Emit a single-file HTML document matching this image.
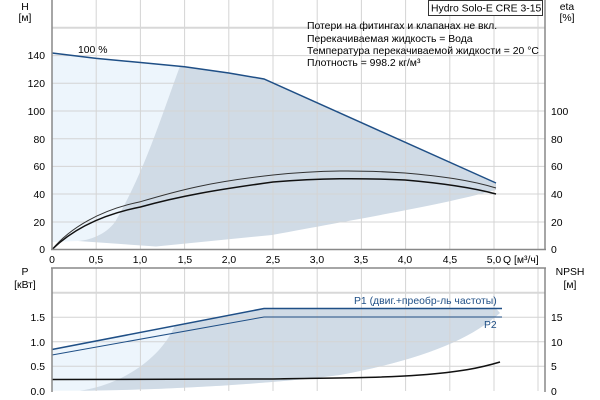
<!DOCTYPE html>
<html><head><meta charset="utf-8"><style>
html,body{margin:0;padding:0;background:#fff;}
svg{display:block;font-family:"Liberation Sans",sans-serif;font-size:10.4px;}
</style></head><body>
<svg width="600" height="400" viewBox="0 0 600 400" xmlns="http://www.w3.org/2000/svg">
<path d="M52,53 L79,56.5 L96,58.6 L140,62.5 L180,66 C160,120 145,170 115,222 C105,235 90,240 78,241 L52,242 Z" fill="#edf5fc"/>
<path d="M180,66 L184.6,66.7 L228,73 L264,79 L496,183 L496,190 C440,205 380,215 272,235 L156,246.5 L78,241 C90,240 105,235 115,222 C145,170 160,120 180,66 Z" fill="#d0dbe6"/>
<g stroke="#d4d4d4" stroke-width="1">
<line x1="96.2" y1="0" x2="96.2" y2="249"/><line x1="140.4" y1="0" x2="140.4" y2="249"/><line x1="184.6" y1="0" x2="184.6" y2="249"/><line x1="228.8" y1="0" x2="228.8" y2="249"/><line x1="273" y1="0" x2="273" y2="249"/><line x1="317.2" y1="0" x2="317.2" y2="249"/><line x1="361.4" y1="0" x2="361.4" y2="249"/><line x1="405.6" y1="0" x2="405.6" y2="249"/><line x1="449.8" y1="0" x2="449.8" y2="249"/><line x1="494" y1="0" x2="494" y2="249"/><line x1="538" y1="0" x2="538" y2="249"/>
<line x1="52" y1="222" x2="545" y2="222"/><line x1="52" y1="194" x2="545" y2="194"/><line x1="52" y1="166.4" x2="545" y2="166.4"/><line x1="52" y1="138.7" x2="545" y2="138.7"/><line x1="52" y1="111" x2="545" y2="111"/><line x1="52" y1="83.3" x2="545" y2="83.3"/><line x1="52" y1="55.6" x2="545" y2="55.6"/>
</g>
<line x1="52" y1="27.8" x2="545" y2="27.8" stroke="#d8d8d8" stroke-width="2"/>
<polyline points="52,53 96.2,58.4 140.4,62.5 184.6,66.7 228.8,73 264,79 496,183" fill="none" stroke="#1f4f86" stroke-width="1.5"/>
<path d="M52,249.5 C70,228 100,210 140.4,201.7 C180,190 210,182 273,175 C320,170 360,170 405,173 C440,176 470,180 496,188" fill="none" stroke="#333" stroke-width="1"/>
<path d="M52,249.5 C72,230 100,215 140.4,207 C180,196 215,190 273,182 C320,178 360,178 405,180 C440,183 470,187 496,194" fill="none" stroke="#111" stroke-width="1.5"/>
<line x1="52" y1="0" x2="52" y2="250" stroke="#888" stroke-width="1.5"/>
<line x1="545" y1="0" x2="545" y2="250" stroke="#888" stroke-width="1.5"/>
<line x1="51" y1="249.5" x2="546" y2="249.5" stroke="#888" stroke-width="1.5"/>
<g fill="#000" text-anchor="end">
<text x="45" y="253">0</text><text x="45" y="226">20</text><text x="45" y="198">40</text><text x="45" y="170">60</text><text x="45" y="143">80</text><text x="45" y="115">100</text><text x="45" y="87">120</text><text x="45" y="59">140</text>
</g>
<g fill="#000">
<text x="551" y="253">0</text><text x="551" y="226">20</text><text x="551" y="198">40</text><text x="551" y="170">60</text><text x="551" y="143">80</text><text x="551" y="115">100</text>
</g>
<g fill="#000" text-anchor="middle">
<text x="52" y="263">0</text><text x="96" y="263">0,5</text><text x="140" y="263">1,0</text><text x="185" y="263">1,5</text><text x="229" y="263">2,0</text><text x="273" y="263">2,5</text><text x="317" y="263">3,0</text><text x="361" y="263">3,5</text><text x="405" y="263">4,0</text><text x="450" y="263">4,5</text><text x="494" y="263">5,0</text>
</g>
<text x="503" y="263">Q [м³/ч]</text>
<text x="25" y="10" text-anchor="middle">H</text><text x="25" y="21" text-anchor="middle">[м]</text>
<text x="567" y="10" text-anchor="middle">eta</text><text x="567" y="21" text-anchor="middle">[%]</text>
<text x="78" y="53">100 %</text>
<rect x="428.5" y="0.5" width="114" height="15" fill="#fff" stroke="#333"/>
<text x="431" y="11.5">Hydro Solo-E CRE 3-15</text>
<text x="307" y="29">Потери на фитингах и клапанах не вкл.</text>
<text x="307" y="42">Перекачиваемая жидкость = Вода</text>
<text x="307" y="54">Температура перекачиваемой жидкости = 20 °C</text>
<text x="307" y="66">Плотность = 998.2 кг/м³</text>

<path d="M52,349.5 L264,308.5 L496,308.5 L496,315 C470,340 420,360 340,375 C260,385 160,390 80,390.7 L52,390.7 Z" fill="#edf5fc"/>
<path d="M175,325.5 L264,308.5 L496,308.5 L500,313 C470,340 420,360 340,375 C260,385 160,390 80,390.7 C120,385 160,360 175,325.5 Z" fill="#d0dbe6"/>
<g stroke="#d4d4d4" stroke-width="1">
<line x1="96.2" y1="268" x2="96.2" y2="391"/><line x1="140.4" y1="268" x2="140.4" y2="391"/><line x1="184.6" y1="268" x2="184.6" y2="391"/><line x1="228.8" y1="268" x2="228.8" y2="391"/><line x1="273" y1="268" x2="273" y2="391"/><line x1="317.2" y1="268" x2="317.2" y2="391"/><line x1="361.4" y1="268" x2="361.4" y2="391"/><line x1="405.6" y1="268" x2="405.6" y2="391"/><line x1="449.8" y1="268" x2="449.8" y2="391"/><line x1="494" y1="268" x2="494" y2="391"/><line x1="538" y1="268" x2="538" y2="391"/>
<line x1="52" y1="366.2" x2="545" y2="366.2"/><line x1="52" y1="341.7" x2="545" y2="341.7"/><line x1="52" y1="317.2" x2="545" y2="317.2"/>
</g>
<line x1="52" y1="292.7" x2="545" y2="292.7" stroke="#d8d8d8" stroke-width="2"/>
<polyline points="52,349.5 264,308.5 502,308.5" fill="none" stroke="#1f4f86" stroke-width="1.5"/>
<polyline points="52,355 264,317 502,317" fill="none" stroke="#1f4f86" stroke-width="1"/>
<path d="M52,379.5 L273,379 C330,378 380,378 420,375 C460,372 480,368 500,362" fill="none" stroke="#111" stroke-width="1.5"/>
<line x1="52" y1="268" x2="52" y2="392" stroke="#888" stroke-width="1.5"/>
<line x1="545" y1="268" x2="545" y2="392" stroke="#888" stroke-width="1.5"/>
<line x1="51" y1="268" x2="546" y2="268" stroke="#888" stroke-width="1.5"/>
<g fill="#000" text-anchor="end">
<text x="45" y="395">0.0</text><text x="45" y="370">0.5</text><text x="45" y="346">1.0</text><text x="45" y="321">1.5</text>
</g>
<g fill="#000">
<text x="551" y="395">0</text><text x="551" y="370">5</text><text x="551" y="346">10</text><text x="551" y="321">15</text>
</g>
<text x="25" y="275" text-anchor="middle">P</text><text x="25" y="288" text-anchor="middle">[кВт]</text>
<text x="570" y="275" text-anchor="middle">NPSH</text><text x="570" y="288" text-anchor="middle">[м]</text>
<text x="354" y="304" fill="#1f4f86">P1 (двиг.+преобр-ль частоты)</text>
<text x="484" y="328" fill="#1f4f86">P2</text>
</svg>
</body></html>
